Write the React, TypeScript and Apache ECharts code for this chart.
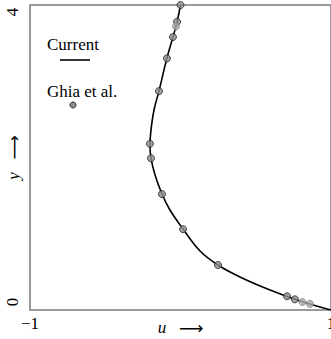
import React, { useEffect, useRef } from "react";
import * as echarts from "echarts";

const curveU = [1, 0.794, 0.595, 0.395, 0.249, 0.13, 0.017, -0.07, -0.123, -0.169, -0.196, -0.203, -0.196, -0.176, -0.143, -0.09, -0.05, -0.023, 0];
const curveY = [0, 0.118, 0.262, 0.433, 0.59, 0.774, 1.062, 1.311, 1.521, 1.77, 1.993, 2.164, 2.361, 2.623, 2.872, 3.305, 3.58, 3.777, 4.0];

const ghiaU = [0, -0.023, -0.03, -0.05, -0.09, -0.143, -0.203, -0.196, -0.123, 0.017, 0.249, 0.708, 0.76, 0.81, 0.86];
const ghiaY = [4.0, 3.78, 3.72, 3.58, 3.3, 2.87, 2.18, 1.99, 1.52, 1.06, 0.59, 0.18, 0.14, 0.105, 0.08];
const ghiaFaint = [false, false, true, false, false, false, false, false, false, false, false, false, false, true, true];

const xTicks = ["−1", "", "1"];
const yTicks = ["0", "4"];

const FONT = "Liberation Serif";
const FS = 17;

const nameRich = {
  i: { fontFamily: FONT, fontStyle: "italic", fontSize: FS, color: "#000" },
  s: { fontFamily: FONT, fontSize: FS, color: "#000" },
  a: { fontFamily: "DejaVu Sans", fontSize: 17, color: "#000" },
};

export default function App() {
  const ref = useRef<HTMLDivElement>(null);
  useEffect(() => {
    document.body.style.margin = "0";
    const chart = echarts.init(ref.current!, null, { renderer: "svg" });
    chart.setOption({
      animation: false,
      grid: {
        left: 30,
        top: 5,
        width: 301,
        height: 305,
        show: true,
        borderColor: "#7a7a7a",
        borderWidth: 1.5,
        containLabel: false,
        outerBoundsMode: "none",
      },
      xAxis: {
        type: "value",
        min: -1,
        max: 1,
        interval: 1,
        splitLine: { show: false },
        axisLine: { show: false },
        axisTick: { show: false },
        axisLabel: {
          fontFamily: FONT,
          fontSize: FS,
          color: "#000",
          margin: 5,
          formatter: (v: number) => xTicks[Math.round(v) + 1],
        },
        name: "{i|u}{s|   }{a|⟶}",
        nameLocation: "middle",
        nameGap: 9,
        nameMoveOverlap: false,
        nameTextStyle: { fontFamily: FONT, fontSize: FS, color: "#000", rich: nameRich },
      },
      yAxis: {
        type: "value",
        min: 0,
        max: 4,
        interval: 4,
        splitLine: { show: false },
        axisLine: { show: false },
        axisTick: { show: false },
        axisLabel: {
          fontFamily: FONT,
          fontSize: FS,
          color: "#000",
          rotate: 90,
          margin: 9,
          formatter: (v: number) => {
            const t = yTicks[Math.round(v / 4)];
            return v > 2 ? `{hi|${t}}` : `{lo|${t}}`;
          },
          rich: {
            hi: { fontFamily: FONT, fontSize: FS, color: "#000", padding: [0, 14, 0, 0] },
            lo: { fontFamily: FONT, fontSize: FS, color: "#000", padding: [0, 0, 0, 16] },
          },
        },
        name: "{i|y}{s|   }{a|⟶}",
        nameLocation: "middle",
        nameRotate: 90,
        nameGap: 8,
        nameMoveOverlap: false,
        nameTextStyle: { fontFamily: FONT, fontSize: FS, color: "#000", rich: nameRich },
      },
      graphic: [
        { type: "text", left: 47, top: 36, style: { text: "Current", font: `${FS}px "${FONT}"`, fill: "#000" } },
        { type: "line", shape: { x1: 60, y1: 60, x2: 90, y2: 60 }, style: { stroke: "#000", lineWidth: 1.6 } },
        { type: "text", left: 47, top: 83, style: { text: "Ghia et al.", font: `${FS}px "${FONT}"`, fill: "#000" } },
        { type: "circle", shape: { cx: 73, cy: 105, r: 3 }, style: { fill: "#8f8f8f", stroke: "#222", lineWidth: 1 } },
      ],
      series: [
        {
          name: "Current",
          type: "line",
          smooth: 0.4,
          symbol: "none",
          lineStyle: { color: "#000", width: 1.6 },
          data: curveU.map((u, i) => [u, curveY[i]]),
          z: 2,
        },
        {
          name: "Ghia et al.",
          type: "scatter",
          symbol: "circle",
          symbolSize: 7,
          data: ghiaU.map((u, i) => ({
            value: [u, ghiaY[i]],
            itemStyle: ghiaFaint[i]
              ? { color: "#aaaaaa", borderColor: "#888", borderWidth: 1 }
              : { color: "#8f8f8f", borderColor: "#222", borderWidth: 1 },
          })),
          z: 3,
        },
      ],
    });
    return () => chart.dispose();
  }, []);
  return <div ref={ref} style={{ width: 331, height: 339 }} />;
}
